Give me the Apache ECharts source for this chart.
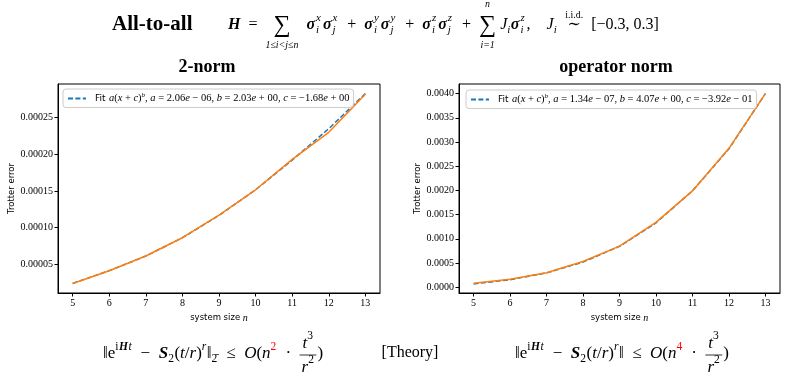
<!DOCTYPE html>
<html>
<head>
<meta charset="utf-8">
<script src="https://cdn.jsdelivr.net/npm/echarts@6/dist/echarts.min.js"></script>
<style>
  html, body { margin: 0; padding: 0; background: #fff; }
  #main { width: 789px; height: 377px; }
</style>
</head>
<body>
<div id="main"></div>
<script>
// system sizes n
const sizes = [5, 6, 7, 8, 9, 10, 11, 12, 13];
// 2-norm: measured error and fit
const twoNormErr = [2.35e-5, 4.08e-5, 6.1e-5, 8.6e-5, 1.17e-4, 1.515e-4, 1.93e-4, 2.30e-4, 2.82e-4];
const twoNormFit = [2.35e-5, 4.1e-5, 6.1e-5, 8.6e-5, 1.165e-4, 1.515e-4, 1.92e-4, 2.35e-4, 2.83e-4];
// operator norm: measured error and fit
const opNormErr = [8e-5, 1.65e-4, 3.0e-4, 5.3e-4, 8.5e-4, 1.34e-3, 1.99e-3, 2.87e-3, 4.0e-3];
const opNormFit = [6.7e-5, 1.55e-4, 2.95e-4, 5.2e-4, 8.45e-4, 1.33e-3, 1.99e-3, 2.86e-3, 4.0e-3];
// tick labels
const sizeTicks = [5, 6, 7, 8, 9, 10, 11, 12, 13];
const twoNormTicks = [0.00005, 0.0001, 0.00015, 0.0002, 0.00025];
const opNormTicks = [0, 0.0005, 0.001, 0.0015, 0.002, 0.0025, 0.003, 0.0035, 0.004];
// fit parameters shown in the legends
const twoNormParams = ['2.06', '− 06', '2.03', '+ 00', '−1.68', '+ 00'];
const opNormParams = ['1.34', '− 07', '4.07', '+ 00', '−3.92', '− 01'];

const serif = '"Liberation Serif", "DejaVu Serif", serif';
const sans = '"DejaVu Sans", sans-serif';
const sp = '\u2002'; // en space, for the wide math spacing

// --- tiny math text layout with graphic text elements ---
const ctx = document.createElement('canvas').getContext('2d');
function fontOf(f, s) {
  const st = (f === 'i' || f === 'bi') ? 'italic ' : '';
  const wt = (f === 'b' || f === 'bi') ? 'bold ' : '';
  return st + wt + s + 'px ' + serif;
}
function measure(t, font) { ctx.font = font; return ctx.measureText(t).width; }
function txt(t, x, y, font, color, align) {
  return {
    type: 'text', x: x, y: y, silent: true,
    style: { text: t, font: font, fill: color || '#000', align: align || 'left', verticalAlign: 'middle',
             textAlign: align || 'left', textVerticalAlign: 'middle' }
  };
}
const R = t => ({ t: t, f: 'r' });
const I = t => ({ t: t, f: 'i' });
const B = t => ({ t: t, f: 'bi' });
const SUP = (t, f, c) => ({ t: t, f: f || 'i', k: 'sup', c: c });
const SUB = (t, f) => ({ t: t, f: f || 'i', k: 'sub' });

function mathRow(x0, y0, s, items) {
  let els = [];
  let x = x0;
  items.forEach(it => {
    if (it.op) {
      const gs = s * (it.gs || 1.5);
      const gf = gs + 'px ' + serif;
      const lf = fontOf(it.lf || 'i', s * 0.62);
      const w0 = measure(it.op, gf);
      const wl = it.lo ? measure(it.lo, lf) : 0;
      const wh = it.hi ? measure(it.hi, lf) : 0;
      const w = Math.max(w0, wl, wh);
      const cx = x + w / 2;
      els.push(txt(it.op, cx, y0 + (it.gdy || 0), gf, '#000', 'center'));
      if (it.lo) els.push(txt(it.lo, cx, y0 + s * 1.3, lf, '#000', 'center'));
      if (it.hi) els.push(txt(it.hi, cx, y0 - s * (it.hiDy || 1.3), lf, '#000', 'center'));
      x += w;
    } else if (it.frac) {
      const nw = mathRow(0, 0, s, it.frac[0]).w;
      const dw = mathRow(0, 0, s, it.frac[1]).w;
      const w = Math.max(nw, dw) + 4;
      els = els.concat(mathRow(x + (w - nw) / 2, y0 - s * 0.62, s, it.frac[0]).els);
      els = els.concat(mathRow(x + (w - dw) / 2, y0 + s * 0.78, s, it.frac[1]).els);
      els.push({ type: 'line', silent: true, shape: { x1: x, y1: y0 + 1, x2: x + w, y2: y0 + 1 },
                 style: { stroke: '#000', lineWidth: 0.8 } });
      x += w + 1;
    } else if (it.ss) {
      const f = fontOf('i', s * 0.68);
      els.push(txt(it.ss[0], x + 1, y0 + s * 0.32, f));
      els.push(txt(it.ss[1], x + 1, y0 - s * 0.42, f));
      x += Math.max(measure(it.ss[0], f), measure(it.ss[1], f)) + 3;
    } else {
      const k = it.k || 'n';
      const sz = k === 'n' ? s : s * 0.68;
      const dy = k === 'sup' ? -s * 0.42 : (k === 'sub' ? s * 0.3 : 0);
      const font = fontOf(it.f, sz);
      els.push(txt(it.t, x, y0 + dy, font, it.c));
      x += measure(it.t, font) + (k === 'n' ? 0 : 0.5);
    }
  });
  return { els: els, w: x - x0 };
}
function mathCentered(cx, y, s, items) {
  const w = mathRow(0, 0, s, items).w;
  return mathRow(cx - w / 2, y, s, items).els;
}

// Hamiltonian at the top
const sig = (a, b) => [B('σ'), { ss: [a, b] }];
const plus = R(sp + '+' + sp);
const hamiltonian = [].concat(
  [B('H'), R(sp + '=' + sp), { op: '∑', lo: '1≤i<j≤n', gdy: 1 }, R(sp)],
  sig('i', 'x'), sig('j', 'x'), [plus],
  sig('i', 'y'), sig('j', 'y'), [plus],
  sig('i', 'z'), sig('j', 'z'), [plus],
  [{ op: '∑', lo: 'i=1', hi: 'n', gdy: 1 }, R(' '), I('J'), SUB('i')],
  sig('i', 'z'), [R(',' + sp + sp), I('J'), SUB('i'), R(sp),
  { op: '∼', gs: 1.0, hi: 'i.i.d.', hiDy: 0.6, lf: 'r' }, R(sp + '[−0.3, 0.3]')]
);

function bound(sub, power) {
  return [R('‖e'), SUP('i', 'r'), SUP('H', 'bi'), SUP('t', 'i'), R(sp + '−' + sp), B('S'), SUB('2', 'r'),
    R('('), I('t'), R('/'), I('r'), R(')'), SUP('r', 'i'), R('‖'),
    sub ? SUB('2̄', 'r') : R(''), R(sp + '≤' + sp), I('O'), R('('), I('n'), SUP(power, 'r', '#ff0000'),
    R(sp + '·' + sp), { frac: [[I('t'), SUP('3', 'r')], [I('r'), SUP('2', 'r')]] }, R(')')];
}

let graphics = [];
graphics.push(txt('All-to-all', 112, 25, 'bold 21px ' + serif));
graphics = graphics.concat(mathRow(228, 25, 16, hamiltonian).els);
graphics.push(txt('2-norm', 207, 67, 'bold 18px ' + serif, '#000', 'center'));
graphics.push(txt('operator norm', 616, 67, 'bold 18px ' + serif, '#000', 'center'));
graphics = graphics.concat(mathCentered(213, 354, 17, bound(true, '2')));
graphics.push(txt('[Theory]', 410, 353, '16px ' + serif, '#000', 'center'));
graphics = graphics.concat(mathCentered(622, 354, 17, bound(false, '4')));

function legendText(p) {
  return '{s|Fit} {m|a}{r|(}{m|x}{r| + }{m|c}{r|)}{p|b}{r|, }{m|a}{r| = ' + p[0] + '}{m|e}{r| ' + p[1] +
    ', }{m|b}{r| = ' + p[2] + '}{m|e}{r| ' + p[3] + ', }{m|c}{r| = ' + p[4] + '}{m|e}{r| ' + p[5] + '}';
}
const legendRich = {
  s: { fontFamily: sans, fontSize: 9, color: '#000', lineHeight: 13 },
  m: { fontFamily: serif, fontSize: 10.5, fontStyle: 'italic', color: '#000', lineHeight: 13 },
  r: { fontFamily: serif, fontSize: 10.5, color: '#000', lineHeight: 13 },
  p: { fontFamily: serif, fontSize: 7, fontStyle: 'italic', color: '#000', verticalAlign: 'top', lineHeight: 13 }
};
function legendOf(left, top, name, params) {
  return {
    left: left, top: top, data: [name], orient: 'vertical',
    borderColor: '#cccccc', borderWidth: 1, borderRadius: 3, padding: [3, 4, 3, 4],
    backgroundColor: 'rgba(255,255,255,0.8)', itemWidth: 18, itemHeight: 10, itemGap: 0,
    itemStyle: { opacity: 0, borderWidth: 0 },
    formatter: () => legendText(params),
    textStyle: { rich: legendRich, padding: [0, 0, 0, 4] }
  };
}

function xAxisOf(i) {
  return {
    type: 'value', gridIndex: i, min: 4.6, max: 13.4,
    axisLine: { show: true, onZero: false, lineStyle: { color: '#000', width: 1 } },
    axisTick: { show: true, customValues: sizeTicks, length: 3.5, lineStyle: { color: '#000' } },
    axisLabel: { customValues: sizeTicks, fontFamily: serif, fontSize: 10, color: '#000', margin: 5 },
    splitLine: { show: false },
    name: '{a|system size }{b|n}', nameLocation: 'middle', nameGap: 20,
    nameTextStyle: { rich: {
      a: { fontFamily: sans, fontSize: 8.5, color: '#000' },
      b: { fontFamily: serif, fontSize: 10, fontStyle: 'italic', color: '#000' }
    } }
  };
}
function yAxisOf(i, min, max, ticks, digits, gap) {
  return {
    type: 'value', gridIndex: i, min: min, max: max,
    axisLine: { show: true, onZero: false, lineStyle: { color: '#000', width: 1 } },
    axisTick: { show: true, customValues: ticks, length: 3.5, lineStyle: { color: '#000' } },
    axisLabel: { customValues: ticks, fontFamily: serif, fontSize: 10, color: '#000', margin: 5,
                 formatter: v => v.toFixed(digits) },
    splitLine: { show: false },
    name: 'Trotter error', nameLocation: 'middle', nameGap: gap, nameRotate: 90,
    nameTextStyle: { fontFamily: sans, fontSize: 8.5, color: '#000' }
  };
}
function lineOf(name, i, ys, color, dashed, z) {
  return {
    type: 'line', name: name, xAxisIndex: i, yAxisIndex: i,
    data: sizes.map((x, k) => [x, ys[k]]),
    symbol: 'none', z: z, silent: true,
    itemStyle: { color: color },
    lineStyle: { color: color, width: 1.5, type: dashed ? [5, 2.4] : 'solid' }
  };
}

const chart = echarts.init(document.getElementById('main'));
chart.setOption({
  animation: false,
  backgroundColor: '#fff',
  grid: [
    { left: 58, right: 409, top: 84, bottom: 84, show: true, borderColor: '#000', borderWidth: 1 },
    { left: 459, right: 9, top: 84, bottom: 84, show: true, borderColor: '#000', borderWidth: 1 }
  ],
  xAxis: [xAxisOf(0), xAxisOf(1)],
  yAxis: [
    yAxisOf(0, 1.05e-5, 2.96e-4, twoNormTicks, 5, 41),
    yAxisOf(1, -1.2e-4, 4.2e-3, opNormTicks, 4, 36)
  ],
  legend: [legendOf(63, 89, 'fit2', twoNormParams), legendOf(466, 90, 'fitOp', opNormParams)],
  series: [
    lineOf('fit2', 0, twoNormFit, '#1f77b4', true, 2),
    lineOf('err2', 0, twoNormErr, '#ff7f0e', false, 3),
    lineOf('fitOp', 1, opNormFit, '#1f77b4', true, 2),
    lineOf('errOp', 1, opNormErr, '#ff7f0e', false, 3)
  ],
  graphic: { elements: graphics }
});
</script>
</body>
</html>
